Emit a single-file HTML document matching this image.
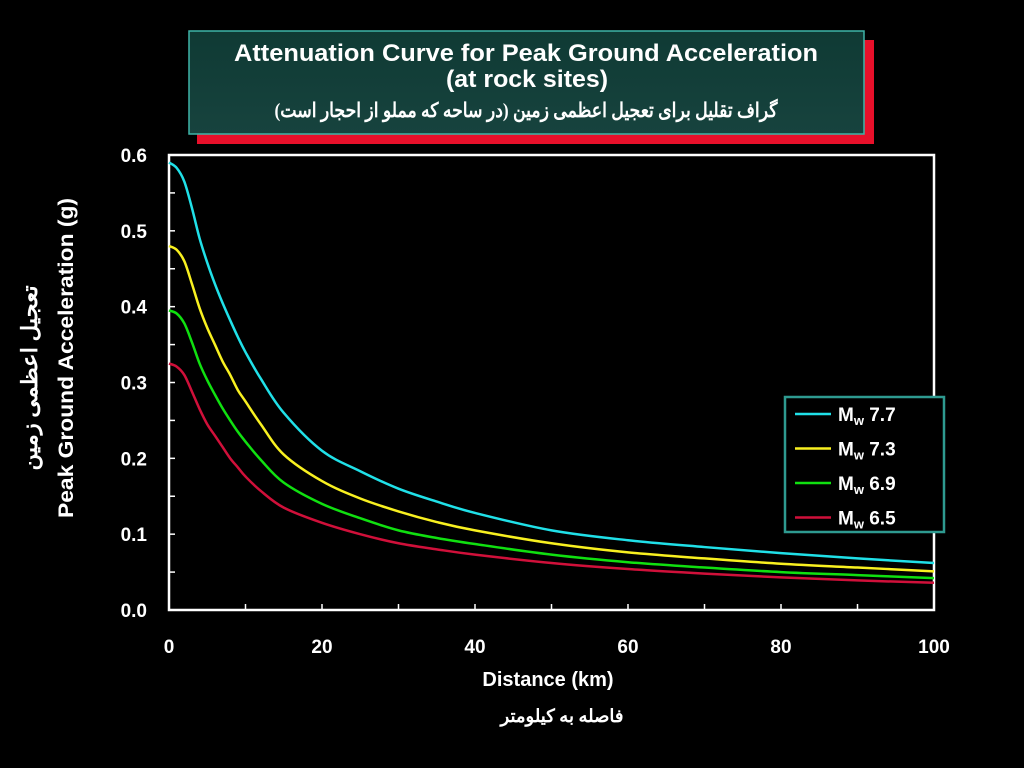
<!DOCTYPE html>
<html><head><meta charset="utf-8"><style>
body{margin:0;background:#000;width:1024px;height:768px;overflow:hidden;font-family:"Liberation Sans",sans-serif}
</style></head><body>
<svg width="1024" height="768" style="position:absolute;left:0;top:0">
<rect x="197" y="40" width="677" height="104" fill="#e8102a"/>
<defs><linearGradient id="g" x1="0" y1="0" x2="0" y2="1"><stop offset="0" stop-color="#0f3a34"/><stop offset="1" stop-color="#17433e"/></linearGradient></defs>
<rect x="189" y="31" width="675" height="103" fill="url(#g)" stroke="#3fb4a8" stroke-width="1.5"/>
<text x="234" y="61" textLength="584" lengthAdjust="spacingAndGlyphs" fill="#fff" font-size="24" font-weight="bold">Attenuation Curve for Peak Ground Acceleration</text>
<text x="446" y="87" textLength="162" lengthAdjust="spacingAndGlyphs" fill="#fff" font-size="24" font-weight="bold">(at rock sites)</text>
<text x="526" y="117" fill="#fff" font-size="20" font-weight="bold" text-anchor="middle" textLength="503" lengthAdjust="spacingAndGlyphs" font-family="'Liberation Serif','DejaVu Serif',serif" direction="rtl">گراف تقلیل برای تعجیل اعظمی زمین (در ساحه که مملو از احجار است)</text>
<rect x="169" y="155" width="765" height="455" fill="none" stroke="#fff" stroke-width="2.5"/>
<g id="axes"></g><g id="series"></g>
<text x="548" y="686" fill="#fff" font-size="20" font-weight="bold" text-anchor="middle">Distance (km)</text>
<text x="562" y="722" fill="#fff" font-size="18" font-weight="bold" text-anchor="middle" font-family="'Liberation Serif','DejaVu Serif',serif" direction="rtl">فاصله به کیلومتر</text>
<text transform="translate(73,358) rotate(-90)" fill="#fff" font-size="21" font-weight="bold" text-anchor="middle" textLength="320" lengthAdjust="spacingAndGlyphs">Peak Ground Acceleration (g)</text>
<text transform="translate(37,378) rotate(-90)" fill="#fff" font-size="22" font-weight="bold" text-anchor="middle" textLength="185" lengthAdjust="spacingAndGlyphs" font-family="'Liberation Serif','DejaVu Serif',serif" direction="rtl">تعجیل اعظمی زمین</text>
<rect x="785" y="397" width="159" height="135" fill="#000" stroke="#2e9a90" stroke-width="2.5"/>
<g id="legend"></g>
</svg>
<script>
const distances=[0,1,2,3,4,5,6,7,8,9,10,12,15,20,25,30,35,40,50,60,70,80,90,100];
const mw77=[.59,.583,.565,.53,.49,.458,.43,.405,.382,.36,.34,.305,.26,.21,.183,.16,.143,.128,.105,.092,.083,.075,.068,.062];
const mw73=[.48,.475,.46,.43,.398,.372,.35,.328,.31,.29,.275,.245,.205,.17,.147,.13,.116,.105,.088,.076,.068,.061,.056,.051];
const mw69=[.395,.391,.378,.353,.325,.303,.284,.266,.25,.235,.222,.198,.168,.14,.121,.105,.095,.087,.073,.063,.056,.05,.046,.042];
const mw65=[.325,.321,.31,.288,.265,.245,.23,.215,.2,.188,.176,.157,.135,.115,.1,.088,.08,.073,.062,.054,.048,.043,.039,.036];
const seriesNames=["7.7","7.3","6.9","6.5"];
const seriesColors=["#20e0e8","#f8f020","#10e010","#d0103a"];
const xTicks=[0,20,40,60,80,100];
const yTicks=[0,0.1,0.2,0.3,0.4,0.5,0.6];
const NS="http://www.w3.org/2000/svg";
const X=d=>169+d/100*765, Y=v=>610-v/0.6*455;
function mk(t,a,p){const e=document.createElementNS(NS,t);for(const k in a)e.setAttribute(k,a[k]);p.appendChild(e);return e;}
const ax=document.getElementById('axes');
for(let i=0;i<=12;i++){const v=i*0.05;const l=mk('line',{x1:169,x2:175,y1:Y(v),y2:Y(v),stroke:'#fff','stroke-width':1.5},ax);

}
for(let d=0;d<=100;d+=10){const l=mk('line',{x1:X(d),x2:X(d),y1:604,y2:610,stroke:'#fff','stroke-width':1.5},ax);

}
yTicks.forEach(v=>{const t=mk('text',{x:147,y:Y(v)+7,fill:'#fff','font-size':19,'font-weight':'bold','text-anchor':'end'},ax);t.textContent=v.toFixed(1);

});
xTicks.forEach(d=>{const t=mk('text',{x:X(d),y:653,fill:'#fff','font-size':19,'font-weight':'bold','text-anchor':'middle'},ax);t.textContent=d;

});
function path(vals){const p=distances.map((d,i)=>[X(d),Y(vals[i])]);let s=`M${p[0][0]},${p[0][1]}`;
for(let i=0;i<p.length-1;i++){const p0=p[Math.max(0,i-1)],p1=p[i],p2=p[i+1],p3=p[Math.min(p.length-1,i+2)];
const c1=[p1[0]+(p2[0]-p0[0])/6,p1[1]+(p2[1]-p0[1])/6],c2=[p2[0]-(p3[0]-p1[0])/6,p2[1]-(p3[1]-p1[1])/6];
s+=`C${c1},${c2},${p2}`;}return s;}
const sg=document.getElementById('series');
[mw77,mw73,mw69,mw65].forEach((vals,i)=>{const e=mk('path',{d:path(vals),fill:'none',stroke:seriesColors[i],'stroke-width':2.5},sg);

});
const lg=document.getElementById('legend');
seriesNames.forEach((n,i)=>{const y=414+i*34.5;
const l=mk('line',{x1:795,x2:831,y1:y,y2:y,stroke:seriesColors[i],'stroke-width':2.5},lg);


const t=mk('text',{x:838,y:y+7,fill:'#fff','font-size':19,'font-weight':'bold'},lg);
t.innerHTML=`M<tspan font-size="13" dy="4">w</tspan><tspan dy="-4"> ${n}</tspan>`;

});
</script>
</body></html>
